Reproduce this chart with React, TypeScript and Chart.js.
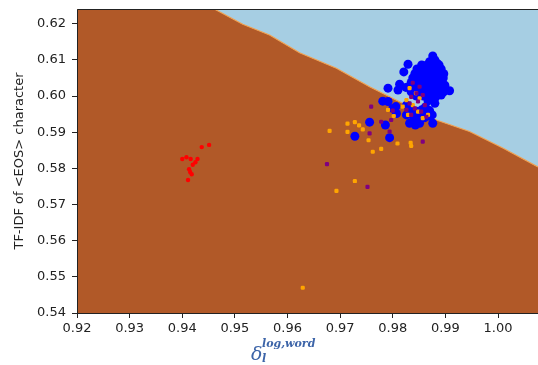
import React, { useEffect, useRef } from 'react';
import { Chart, registerables } from 'chart.js';
Chart.register(...registerables);

const xTicks = [0.92, 0.93, 0.94, 0.95, 0.96, 0.97, 0.98, 0.99, 1.0];
const yTicks = [0.54, 0.55, 0.56, 0.57, 0.58, 0.59, 0.6, 0.61, 0.62];
const X_MIN = 0.92, X_MAX = 1.0076, Y_MIN = 0.54, Y_MAX = 0.6241;

const boundaryX = [0.92, 0.9461, 0.9515, 0.9566, 0.9623, 0.9693, 0.9756, 0.9794, 0.9883, 0.9946, 1.001, 1.0076];
const boundaryY = [0.6241, 0.6241, 0.6199, 0.6169, 0.612, 0.6077, 0.6026, 0.5998, 0.5934, 0.5902, 0.5856, 0.5804];

const redX = [0.9437, 0.9451, 0.94, 0.9408, 0.9416, 0.9429, 0.9425, 0.942, 0.9413, 0.9415, 0.9418, 0.9411];
const redY = [0.5859, 0.5865, 0.5826, 0.5831, 0.5826, 0.5826, 0.5817, 0.581, 0.5798, 0.579, 0.5784, 0.5768];

const blueX = [
  0.9876, 0.988, 0.987, 0.9885,
  0.9855, 0.9865, 0.9875, 0.9888,
  0.9846, 0.9856, 0.9866, 0.9876, 0.9886, 0.9892,
  0.9842, 0.9852, 0.9862, 0.9872, 0.9882, 0.9892, 0.9897,
  0.9838, 0.9848, 0.9858, 0.9868, 0.9878, 0.9888, 0.9896,
  0.9835, 0.9845, 0.9855, 0.9865, 0.9875, 0.9885, 0.9893,
  0.983, 0.984, 0.985, 0.986, 0.987, 0.988, 0.989, 0.9899,
  0.9835, 0.9848, 0.986, 0.9872, 0.9884, 0.9897, 0.9908,
  0.9845, 0.9858, 0.987, 0.988, 0.9886, 0.9867,
  0.9829, 0.9821, 0.9791, 0.981, 0.9813, 0.9825, 0.9781, 0.9791, 0.9806, 0.9807, 0.9826,
  0.9832, 0.9843, 0.9851, 0.9875, 0.9876, 0.9857, 0.9756, 0.9728, 0.9794, 0.9786,
  0.9826, 0.9835, 0.9845, 0.9855, 0.9862, 0.987, 0.984, 0.985, 0.986, 0.9868, 0.983,
  0.98, 0.9842, 0.9873, 0.988, 0.9892,
];
const blueY = [
  0.6111, 0.61, 0.6095, 0.609,
  0.6086, 0.6086, 0.6086, 0.6086,
  0.6075, 0.6075, 0.6075, 0.6075, 0.6075, 0.6075,
  0.6062, 0.6062, 0.6062, 0.6062, 0.6062, 0.6062, 0.6062,
  0.605, 0.605, 0.605, 0.605, 0.605, 0.605, 0.605,
  0.6038, 0.6038, 0.6038, 0.6038, 0.6038, 0.6038, 0.6038,
  0.6025, 0.6025, 0.6025, 0.6025, 0.6025, 0.6025, 0.6025, 0.603,
  0.6012, 0.6012, 0.6012, 0.6012, 0.6012, 0.6012, 0.6015,
  0.6, 0.6, 0.6, 0.5994, 0.6003, 0.5987,
  0.6088, 0.6067, 0.6022, 0.6017, 0.6033, 0.6024, 0.5986, 0.5985, 0.5971, 0.5952, 0.5948,
  0.5925, 0.592, 0.5925, 0.5948, 0.5925, 0.5952, 0.5928, 0.5889, 0.5885, 0.592,
  0.5975, 0.5965, 0.5958, 0.5962, 0.597, 0.596, 0.594, 0.5935, 0.594, 0.5945, 0.5955,
  0.5966, 0.5943, 0.5948, 0.598, 0.6003,
];

const orangeX = [
  0.9832, 0.9844, 0.9851, 0.9826, 0.9838, 0.9819, 0.9848, 0.9829, 0.9857, 0.9867, 0.9791, 0.9802,
  0.968, 0.9714, 0.9728, 0.9736, 0.9743, 0.9714, 0.9754, 0.9778, 0.9762, 0.9834, 0.9835, 0.9809,
  0.9728, 0.9693, 0.9629,
];
const orangeY = [
  0.6022, 0.6008, 0.5994, 0.5989, 0.5975, 0.5971, 0.5957, 0.5948, 0.5939, 0.5948, 0.5962, 0.5945,
  0.5904, 0.5924, 0.5928, 0.5919, 0.5908, 0.5901, 0.5878, 0.5854, 0.5846, 0.5871, 0.5862, 0.5869,
  0.5765, 0.5738, 0.547,
];

const purpleX = [
  0.9838, 0.9851, 0.9845, 0.9857, 0.9835, 0.9848, 0.9832, 0.9861, 0.9842, 0.9826, 0.9854, 0.9835,
  0.9864, 0.9759, 0.9778, 0.9797, 0.9756, 0.9794, 0.9857, 0.98, 0.9675, 0.9752,
];
const purpleY = [
  0.6037, 0.6026, 0.6008, 0.6003, 0.5998, 0.5985, 0.598, 0.5975, 0.5966, 0.5962, 0.5957, 0.5948,
  0.5943, 0.5971, 0.5929, 0.5934, 0.5897, 0.5902, 0.5874, 0.596, 0.5812, 0.5749,
];

const zip = (xs: number[], ys: number[]) => xs.map((x, i) => ({ x, y: ys[i] }));

const TEXT = '#222222';

const decorPlugin = {
  id: 'decor',
  afterDraw(chart: any) {
    const { ctx, chartArea } = chart;
    const { left, right, top, bottom } = chartArea;
    ctx.save();
    ctx.strokeStyle = TEXT;
    ctx.lineWidth = 1;
    ctx.beginPath();
    ctx.moveTo(right + 1, top + 0.5);
    ctx.lineTo(left + 0.5, top + 0.5);
    ctx.lineTo(left + 0.5, bottom + 0.5);
    ctx.lineTo(right + 1, bottom + 0.5);
    ctx.stroke();

    // y label
    ctx.fillStyle = TEXT;
    ctx.font = '13px "DejaVu Sans"';
    ctx.textAlign = 'center';
    ctx.textBaseline = 'middle';
    ctx.translate(20, (top + bottom) / 2);
    ctx.rotate(-Math.PI / 2);
    ctx.fillText('TF-IDF of <EOS> character', 0, 0);
    ctx.restore();

    // x label (math)
    ctx.save();
    ctx.fillStyle = '#3c64a8';
    ctx.textAlign = 'left';
    ctx.textBaseline = 'alphabetic';
    ctx.font = 'italic 19px "DejaVu Serif"';
    ctx.fillText('δ', 251, 360);
    ctx.font = 'bold italic 11px "DejaVu Serif"';
    ctx.fillText('log,word', 262, 347);
    ctx.fillText('l', 262, 362);
    ctx.restore();
  },
};

export default function App() {
  const ref = useRef<HTMLCanvasElement>(null);
  useEffect(() => {
    if (!ref.current) return;
    const chart = new Chart(ref.current, {
      type: 'scatter',
      data: {
        datasets: [
          {
            type: 'line',
            data: zip(boundaryX, boundaryY),
            fill: 'start',
            backgroundColor: '#b15928',
            borderWidth: 0,
            pointRadius: 0,
            order: 20,
          } as any,
          {
            type: 'line',
            data: zip(boundaryX, boundaryY),
            fill: 'end',
            backgroundColor: '#a6cee3',
            borderColor: '#f0a050',
            borderWidth: 1.2,
            pointRadius: 0,
            order: 19,
          } as any,
          {
            data: zip(blueX, blueY),
            backgroundColor: '#0000ff',
            borderWidth: 0,
            pointRadius: 4.5,
            order: 5,
          },
          {
            data: zip(orangeX, orangeY),
            backgroundColor: '#ffa500',
            borderWidth: 0,
            pointRadius: 2.4,
            pointStyle: 'rectRounded',
            order: 3,
          },
          {
            data: zip(purpleX, purpleY),
            backgroundColor: '#800080',
            borderWidth: 0,
            pointRadius: 2.4,
            pointStyle: 'rectRounded',
            order: 2,
          },
          {
            data: zip(redX, redY),
            backgroundColor: '#ff0000',
            borderWidth: 0,
            pointRadius: 2.2,
            order: 1,
          },
        ],
      },
      options: {
        responsive: false,
        animation: false,
        layout: { autoPadding: false, padding: { top: 9, left: 0, right: 0, bottom: 0 } },
        plugins: { legend: { display: false }, tooltip: { enabled: false } },
        scales: {
          x: {
            type: 'linear',
            min: X_MIN,
            max: X_MAX,
            afterBuildTicks: (s: any) => { s.ticks = xTicks.map((value) => ({ value })); },
            afterFit: (s: any) => { s.height = 52; s.paddingLeft = 0; s.paddingRight = 0; },
            grid: { drawOnChartArea: false, drawTicks: true, tickLength: 5, color: TEXT },
            border: { display: false },
            ticks: {
              padding: 3,
              color: TEXT,
              font: { family: 'DejaVu Sans', size: 13 },
              callback: (v: any) => Number(v).toFixed(2),
              maxRotation: 0,
              autoSkip: false,
            },
          },
          y: {
            type: 'linear',
            min: Y_MIN,
            max: Y_MAX,
            afterBuildTicks: (s: any) => { s.ticks = yTicks.map((value) => ({ value })); },
            afterFit: (s: any) => { s.width = 77; s.paddingTop = 0; s.paddingBottom = 0; },
            grid: { drawOnChartArea: false, drawTicks: true, tickLength: 5, color: TEXT },
            border: { display: false },
            ticks: {
              padding: 6,
              color: TEXT,
              font: { family: 'DejaVu Sans', size: 13 },
              callback: (v: any) => Number(v).toFixed(2),
              autoSkip: false,
            },
          },
        },
      },
      plugins: [decorPlugin],
    });
    return () => chart.destroy();
  }, []);
  return (
    <div style={{ position: 'fixed', left: 0, top: 0, width: 538, height: 365, background: '#fff' }}>
      <canvas ref={ref} width={538} height={365} style={{ display: 'block' }} />
    </div>
  );
}
